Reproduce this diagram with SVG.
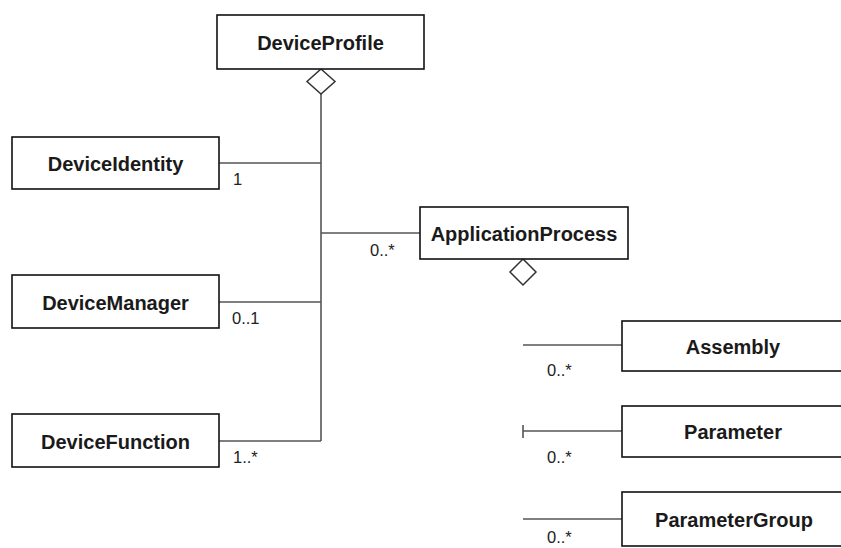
<svg xmlns="http://www.w3.org/2000/svg" width="841" height="548" viewBox="0 0 841 548">
<style>
.box{fill:#fff;stroke:#111;stroke-width:1.6}
.name{font-family:"Liberation Sans",Arial,sans-serif;font-weight:bold;font-size:20px;fill:#1a1a1a;text-anchor:middle}
.mult{font-family:"Liberation Sans",Arial,sans-serif;font-size:16.5px;fill:#222}
.ln{stroke:#555;stroke-width:1.6;fill:none}
.dia{fill:#fff;stroke:#333;stroke-width:1.5}
</style>
<rect width="841" height="548" fill="#fff"/>
<g id="connectors">
<line class="ln" x1="321" y1="94" x2="321" y2="441"/>
<line class="ln" x1="219" y1="163" x2="321" y2="163"/>
<line class="ln" x1="321" y1="233" x2="420" y2="233"/>
<line class="ln" x1="219" y1="302" x2="321" y2="302"/>
<line class="ln" x1="219" y1="441" x2="321" y2="441"/>
<polygon class="dia" points="321,69 335,81.5 321,94 307,81.5"/>
<polygon class="dia" points="523,259 536,272 523,285 510,272"/>
<line class="ln" x1="523" y1="345" x2="622" y2="345"/>
<line class="ln" x1="523" y1="431" x2="622" y2="431"/>
<line class="ln" x1="523" y1="425" x2="523" y2="438" stroke-width="1"/>
<line class="ln" x1="523" y1="519" x2="622" y2="519"/>
<text class="mult" x="233" y="185">1</text>
<text class="mult" x="370" y="256">0..*</text>
<text class="mult" x="232" y="324">0..1</text>
<text class="mult" x="233" y="463">1..*</text>
<text class="mult" x="547" y="376">0..*</text>
<text class="mult" x="547" y="463">0..*</text>
<text class="mult" x="547" y="543">0..*</text>
</g>
<g id="DeviceProfile"><rect class="box" x="217" y="15" width="207" height="54"/><text class="name" x="320.5" y="50">DeviceProfile</text></g>
<g id="DeviceIdentity"><rect class="box" x="12" y="137" width="207" height="52"/><text class="name" x="115.5" y="171">DeviceIdentity</text></g>
<g id="ApplicationProcess"><rect class="box" x="420" y="207" width="208" height="52"/><text class="name" x="524" y="241">ApplicationProcess</text></g>
<g id="DeviceManager"><rect class="box" x="12" y="275" width="207" height="53"/><text class="name" x="115.5" y="310">DeviceManager</text></g>
<g id="DeviceFunction"><rect class="box" x="12" y="414" width="207" height="53"/><text class="name" x="115.5" y="449">DeviceFunction</text></g>
<g id="Assembly"><rect class="box" x="622" y="321" width="222" height="50"/><text class="name" x="733" y="354">Assembly</text></g>
<g id="Parameter"><rect class="box" x="622" y="406" width="222" height="51"/><text class="name" x="733" y="439">Parameter</text></g>
<g id="ParameterGroup"><rect class="box" x="622" y="492" width="222" height="54"/><text class="name" x="734" y="527">ParameterGroup</text></g>
</svg>
